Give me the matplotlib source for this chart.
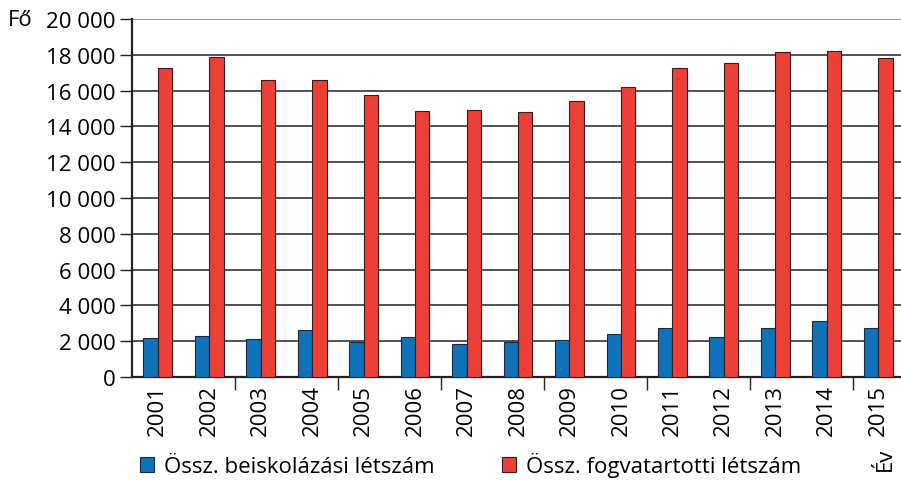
import matplotlib.pyplot as plt
import numpy as np
from matplotlib.ticker import FuncFormatter

years = ["2001", "2002", "2003", "2004", "2005", "2006", "2007", "2008",
         "2009", "2010", "2011", "2012", "2013", "2014", "2015"]
beiskolazasi = [2200, 2300, 2100, 2650, 1980, 2260, 1870, 1980,
                2070, 2430, 2760, 2260, 2760, 3150, 2710]
fogvatartotti = [17280, 17870, 16580, 16580, 15740, 14850, 14900, 14810,
                 15410, 16210, 17260, 17520, 18170, 18230, 17830]
yticks = np.arange(0, 20001, 2000)

plt.rcParams["font.family"] = ["Open Sans", "DejaVu Sans"]
fs = 16

fig = plt.figure(figsize=(9.01, 4.81), dpi=100)
ax = fig.add_axes([132/901, 103/481, 772/901, 358/481])

x = np.arange(len(years))
w = 0.28
ax.bar(x - w/2, beiskolazasi, w, color="#1072ba", edgecolor="#1a2a3a", linewidth=0.8,
       label="Össz. beiskolázási létszám", zorder=3)
ax.bar(x + w/2, fogvatartotti, w, color="#ec3f37", edgecolor="#3a1a1a", linewidth=0.8,
       label="Össz. fogvatartotti létszám", zorder=3)

ax.set_xlim(-0.5, len(years) - 0.5)
ax.set_ylim(0, 20000)
ax.set_yticks(yticks)
ax.yaxis.set_major_formatter(FuncFormatter(lambda v, p: f"{int(v):,}".replace(",", " ")))
for v in yticks[1:]:
    ax.axhline(v, color="#222222" if v < 20000 else "#777777", linewidth=1.1, zorder=1)

ax.set_xticks(x)
ax.set_xticklabels(years, rotation=90, fontsize=fs)
ax.tick_params(axis="x", length=0, pad=5)
ax.set_xticks(np.arange(1.5, len(years), 2), minor=True)
ax.tick_params(axis="x", which="minor", length=9, width=1, direction="out", color="#222222")
ax.tick_params(axis="y", length=9, width=1, labelsize=fs, pad=3, color="#222222")

for s in ["top", "right"]:
    ax.spines[s].set_visible(False)
ax.spines["left"].set_linewidth(1.6)
ax.spines["bottom"].set_linewidth(1.6)
ax.spines["left"].set_color("#222222")
ax.spines["bottom"].set_color("#222222")

fig.text(8/901, 1 - 21/481, "Fő", fontsize=fs, va="center", ha="left")
fig.text(885/901, 1 - 459/481, "Év", fontsize=fs, va="center", ha="center", rotation=90)

ax.legend(loc="center left", bbox_to_anchor=(8/772, -0.245), ncol=2, frameon=False,
          fontsize=fs, handlelength=0.65, handleheight=0.65, handletextpad=0.45,
          columnspacing=3.0, borderaxespad=0, borderpad=0)

fig.savefig("out.png", dpi=100)
